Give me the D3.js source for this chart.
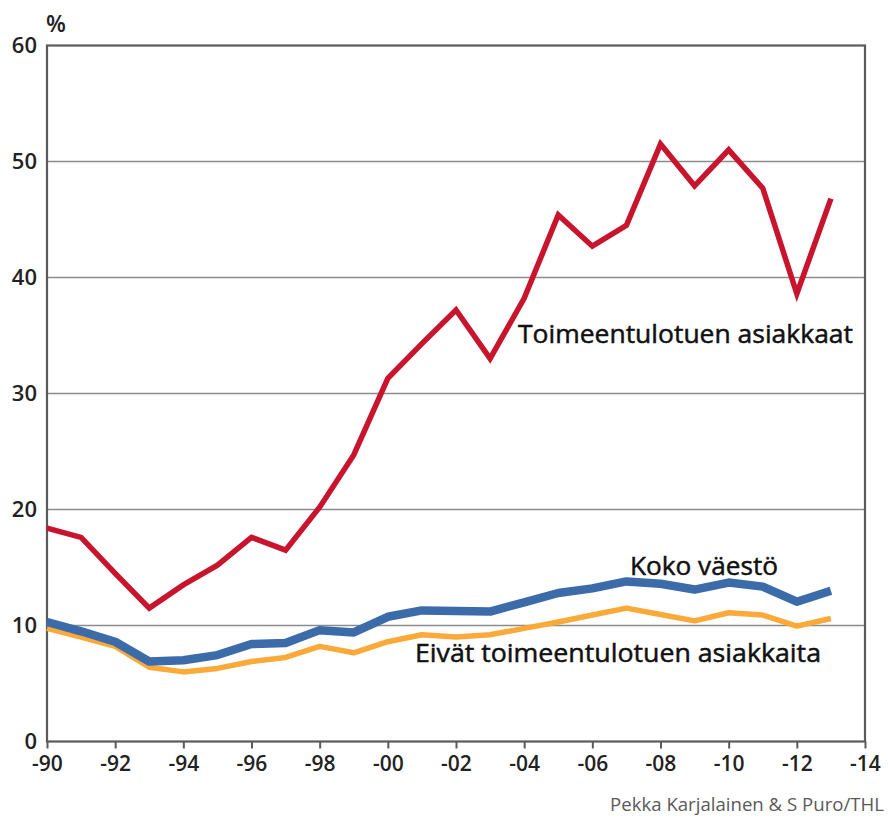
<!DOCTYPE html>
<html>
<head>
<meta charset="utf-8">
<script src="https://cdn.jsdelivr.net/npm/d3@7"></script>
<style>
  body { margin: 0; background: #fff; }
  svg text { font-family: "Open Sans", "Noto Sans", sans-serif; }
</style>
</head>
<body>
<div id="chart"></div>
<script>
// years 1990..2013
const years = d3.range(1990, 2014);

// Toimeentulotuen asiakkaat (%)
const asiakkaat = [18.4, 17.6, 14.5, 11.5, 13.5, 15.2, 17.6, 16.5, 20.2, 24.7, 31.3, 34.3,
  37.2, 33.0, 38.2, 45.4, 42.7, 44.5, 51.5, 47.9, 51.0, 47.7, 38.6, 46.8];
// Koko väestö (%)
const kokoVaesto = [10.3, 9.5, 8.6, 6.9, 7.0, 7.45, 8.4, 8.5, 9.6, 9.4, 10.75, 11.3,
  11.25, 11.2, 12.0, 12.8, 13.2, 13.8, 13.6, 13.1, 13.7, 13.35, 12.05, 13.0];
// Eivät toimeentulotuen asiakkaita (%)
const eivat = [9.75, 9.0, 8.2, 6.4, 6.0, 6.3, 6.9, 7.25, 8.2, 7.65, 8.6, 9.2,
  9.0, 9.2, 9.75, 10.3, 10.9, 11.5, 10.95, 10.4, 11.1, 10.9, 9.95, 10.6];

const yTicks = [0, 10, 20, 30, 40, 50, 60];
const xTicks = d3.range(1990, 2015, 2);

const WIDTH = 888, HEIGHT = 821;
const MARGIN = { TOP: 45, LEFT: 47, RIGHT: 23, BOTTOM: 80 };

const svg = d3.select("#chart").append("svg")
  .attr("width", WIDTH)
  .attr("height", HEIGHT);

const x = d3.scaleLinear()
  .domain([1990, 2014])
  .range([MARGIN.LEFT, WIDTH - MARGIN.RIGHT]);

const y = d3.scaleLinear()
  .domain([0, 60])
  .range([HEIGHT - MARGIN.BOTTOM + 0.5, MARGIN.TOP + 0.5]);

// gridlines
svg.append("g")
  .selectAll("line")
  .data(yTicks.filter(d => d > 0 && d < 60))
  .enter().append("line")
  .attr("x1", x(1990)).attr("x2", x(2014))
  .attr("y1", d => y(d)).attr("y2", d => y(d))
  .attr("stroke", "#8c8c8c")
  .attr("stroke-width", 1.6);

// frame
svg.append("rect")
  .attr("x", x(1990)).attr("y", y(60))
  .attr("width", x(2014) - x(1990))
  .attr("height", y(0) - y(60))
  .attr("fill", "none")
  .attr("stroke", "#5a5a5a")
  .attr("stroke-width", 2.2);

// x axis
const xAxis = d3.axisBottom(x)
  .tickValues(xTicks)
  .tickSize(7)
  .tickPadding(8)
  .tickFormat(d => "-" + String(d % 100).padStart(2, "0"));

const gx = svg.append("g")
  .attr("transform", `translate(0,${y(0)})`)
  .call(xAxis);
gx.select(".domain").remove();
gx.selectAll(".tick line").attr("stroke", "#5a5a5a").attr("stroke-width", 2);
gx.selectAll(".tick text")
  .attr("fill", "#222")
  .style("font-size", "21px")
  .style("font-weight", 600);

// y axis
const yAxis = d3.axisLeft(y)
  .tickValues(yTicks)
  .tickSize(0)
  .tickPadding(10);

const gy = svg.append("g")
  .attr("transform", `translate(${x(1990)},0)`)
  .call(yAxis);
gy.select(".domain").remove();
gy.selectAll(".tick text")
  .attr("fill", "#222")
  .style("font-size", "22px")
  .style("font-weight", 600);

svg.append("text")
  .attr("x", 46).attr("y", 32)
  .attr("fill", "#222")
  .style("font-size", "23px")
  .style("font-weight", 600)
  .text("%");

// lines
const line = d3.line()
  .x((d, i) => x(years[i]))
  .y(d => y(d));

svg.append("path")
  .datum(eivat)
  .attr("d", line)
  .attr("fill", "none")
  .attr("stroke", "#fbaa3a")
  .attr("stroke-width", 5.5)
  .attr("stroke-linejoin", "round");

svg.append("path")
  .datum(kokoVaesto)
  .attr("d", line)
  .attr("fill", "none")
  .attr("stroke", "#3c6ba9")
  .attr("stroke-width", 8.5)
  .attr("stroke-linejoin", "round");

svg.append("path")
  .datum(asiakkaat)
  .attr("d", line)
  .attr("fill", "none")
  .attr("stroke", "#c8152d")
  .attr("stroke-width", 5.5)
  .attr("stroke-linejoin", "miter");

// series labels
const labels = [
  { text: "Toimeentulotuen asiakkaat", x: 518, y: 343, w: 335 },
  { text: "Koko väestö", x: 630, y: 575, w: 148 },
  { text: "Eivät toimeentulotuen asiakkaita", x: 415, y: 662, w: 406 }
];

svg.append("g")
  .selectAll("text")
  .data(labels)
  .enter().append("text")
  .attr("x", d => d.x)
  .attr("y", d => d.y)
  .attr("textLength", d => d.w)
  .attr("lengthAdjust", "spacingAndGlyphs")
  .attr("fill", "#111")
  .attr("stroke", "#111")
  .attr("stroke-width", 0.5)
  .style("font-size", "26px")
  .text(d => d.text);

svg.append("text")
  .attr("x", 884).attr("y", 811)
  .attr("text-anchor", "end")
  .attr("textLength", 274)
  .attr("lengthAdjust", "spacingAndGlyphs")
  .attr("fill", "#5a5a5a")
  .style("font-size", "18px")
  .text("Pekka Karjalainen & S Puro/THL");
</script>
</body>
</html>
